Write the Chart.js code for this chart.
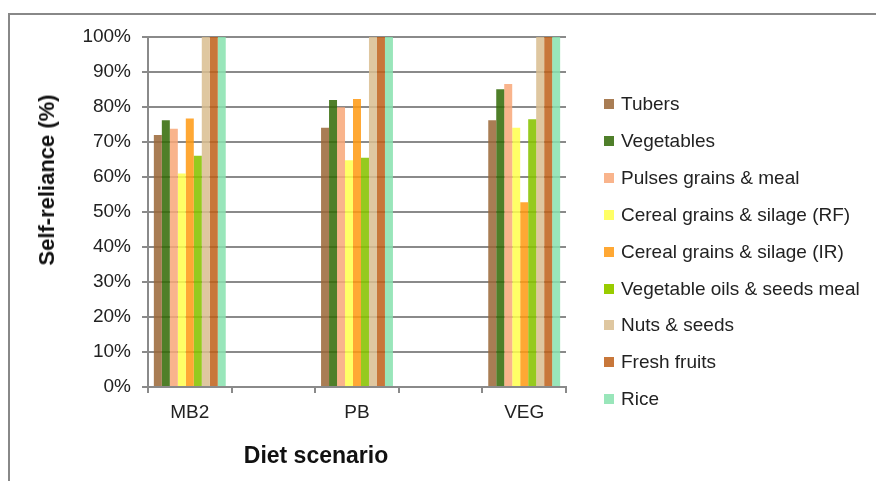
<!DOCTYPE html>
<html lang="en">
<head>
    <meta charset="UTF-8">
    <title>Self-reliance by diet scenario</title>
    <style>
        html, body {
            margin: 0;
            padding: 0;
            background: #fff;
            font-family: "Liberation Sans", Arial, sans-serif;
        }
        .wrap {
            position: relative;
            width: 876px;
            height: 481px;
            overflow: hidden;
        }
        .frame {
            position: absolute;
            left: 8px;
            top: 13px;
            width: 900px;
            height: 500px;
            border-left: 2px solid #888;
            border-top: 2px solid #888;
        }
        #chart {
            position: absolute;
            left: 0;
            top: 0;
        }
        .y-title {
            position: absolute;
            left: 47px;
            top: 180px;
            transform: translate(-50%, -50%) rotate(-90deg);
            font-weight: bold;
            font-size: 22px;
            color: #111;
            white-space: nowrap;
        }
        .x-title {
            position: absolute;
            left: 316px;
            top: 455px;
            transform: translate(-50%, -50%);
            font-weight: bold;
            font-size: 23px;
            color: #111;
            white-space: nowrap;
        }
        .legend {
            position: absolute;
            left: 604px;
            top: 0;
        }
        .legend-item {
            position: absolute;
            left: 0;
            height: 20px;
            display: flex;
            align-items: center;
            white-space: nowrap;
            font-size: 19px;
            color: #222;
        }
        .legend-box {
            width: 10px;
            height: 10px;
            margin-right: 7px;
        }
    </style>
</head>
<body>
    <div class="wrap">
        <div class="frame"></div>
        <canvas id="chart" width="876" height="481"></canvas>
        <div class="y-title">Self-reliance (%)</div>
        <div class="x-title">Diet scenario</div>
        <div class="legend" id="legend"></div>
    </div>

    <script src="https://cdn.jsdelivr.net/npm/chart.js"></script>
    <script>
        const scenarios = ['MB2', 'PB', 'VEG'];

        const tubers = [72.0, 74.1, 76.2];
        const vegetables = [76.2, 82.0, 85.1];
        const pulses = [73.8, 79.9, 86.6];
        const cerealRF = [61.0, 64.8, 74.1];
        const cerealIR = [76.7, 82.3, 52.8];
        const vegOils = [66.1, 65.5, 76.5];
        const nuts = [100, 100, 100];
        const fruits = [100, 100, 100];
        const rice = [100, 100, 100];

        const yTicks = [0, 10, 20, 30, 40, 50, 60, 70, 80, 90, 100];

        const series = [
            { name: 'Tubers', values: tubers, color: 'rgba(154, 102, 54, 0.85)', solid: '#a97d54' },
            { name: 'Vegetables', values: vegetables, color: 'rgba(48, 105, 4, 0.85)', solid: '#4f7f2a' },
            { name: 'Pulses grains & meal', values: pulses, color: 'rgba(248, 167, 120, 0.85)', solid: '#f9b48c' },
            { name: 'Cereal grains & silage (RF)', values: cerealRF, color: 'rgba(255, 255, 75, 0.85)', solid: '#ffff66' },
            { name: 'Cereal grains & silage (IR)', values: cerealIR, color: 'rgba(255, 153, 16, 0.85)', solid: '#ffa834' },
            { name: 'Vegetable oils & seeds meal', values: vegOils, color: 'rgba(135, 195, 0, 0.88)', solid: '#99cc00' },
            { name: 'Nuts & seeds', values: nuts, color: 'rgba(217, 189, 143, 0.85)', solid: '#dfc7a0' },
            { name: 'Fresh fruits', values: fruits, color: 'rgba(190, 95, 23, 0.85)', solid: '#c8773a' },
            { name: 'Rice', values: rice, color: 'rgba(135, 226, 174, 0.85)', solid: '#99e6ba' }
        ];

        // empty category slots between the scenarios, like the original spacing
        const labels = [];
        scenarios.forEach((s, i) => {
            if (i > 0) labels.push('');
            labels.push(s);
        });

        function spread(values) {
            const out = [];
            values.forEach((v, i) => {
                if (i > 0) out.push(null);
                out.push(v);
            });
            return out;
        }

        const gridGray = '#8a8a8a';

        new Chart(document.getElementById('chart'), {
            type: 'bar',
            data: {
                labels: labels,
                datasets: series.map(s => ({
                    label: s.name,
                    data: spread(s.values),
                    backgroundColor: s.color,
                    borderWidth: 0,
                    categoryPercentage: 0.86,
                    barPercentage: 1.0
                }))
            },
            options: {
                responsive: false,
                animation: false,
                layout: {
                    padding: { left: 0, top: 37, right: 310, bottom: 0 }
                },
                plugins: {
                    legend: { display: false },
                    tooltip: { enabled: false }
                },
                scales: {
                    x: {
                        afterFit: scale => { scale.height = 94; },
                        grid: {
                            offset: true,
                            drawOnChartArea: false,
                            color: gridGray,
                            lineWidth: 2,
                            tickLength: 6
                        },
                        border: { color: gridGray, width: 2 },
                        ticks: {
                            color: '#222',
                            padding: 8,
                            font: { family: '"Liberation Sans", Arial, sans-serif', size: 19 }
                        }
                    },
                    y: {
                        min: 0,
                        max: 100,
                        afterFit: scale => { scale.width = 148; },
                        afterBuildTicks: scale => {
                            scale.ticks = yTicks.map(v => ({ value: v }));
                        },
                        grid: {
                            color: gridGray,
                            lineWidth: 2,
                            tickLength: 6
                        },
                        border: { color: gridGray, width: 2 },
                        ticks: {
                            color: '#222',
                            padding: 11,
                            callback: v => v + '%',
                            font: { family: '"Liberation Sans", Arial, sans-serif', size: 19 }
                        }
                    }
                }
            }
        });

        // legend on the right
        const legend = document.getElementById('legend');
        series.forEach((s, i) => {
            const item = document.createElement('div');
            item.className = 'legend-item';
            item.style.top = (94 + i * 36.9) + 'px';
            const box = document.createElement('span');
            box.className = 'legend-box';
            box.style.background = s.solid;
            const text = document.createElement('span');
            text.textContent = s.name;
            item.appendChild(box);
            item.appendChild(text);
            legend.appendChild(item);
        });
    </script>
</body>
</html>
